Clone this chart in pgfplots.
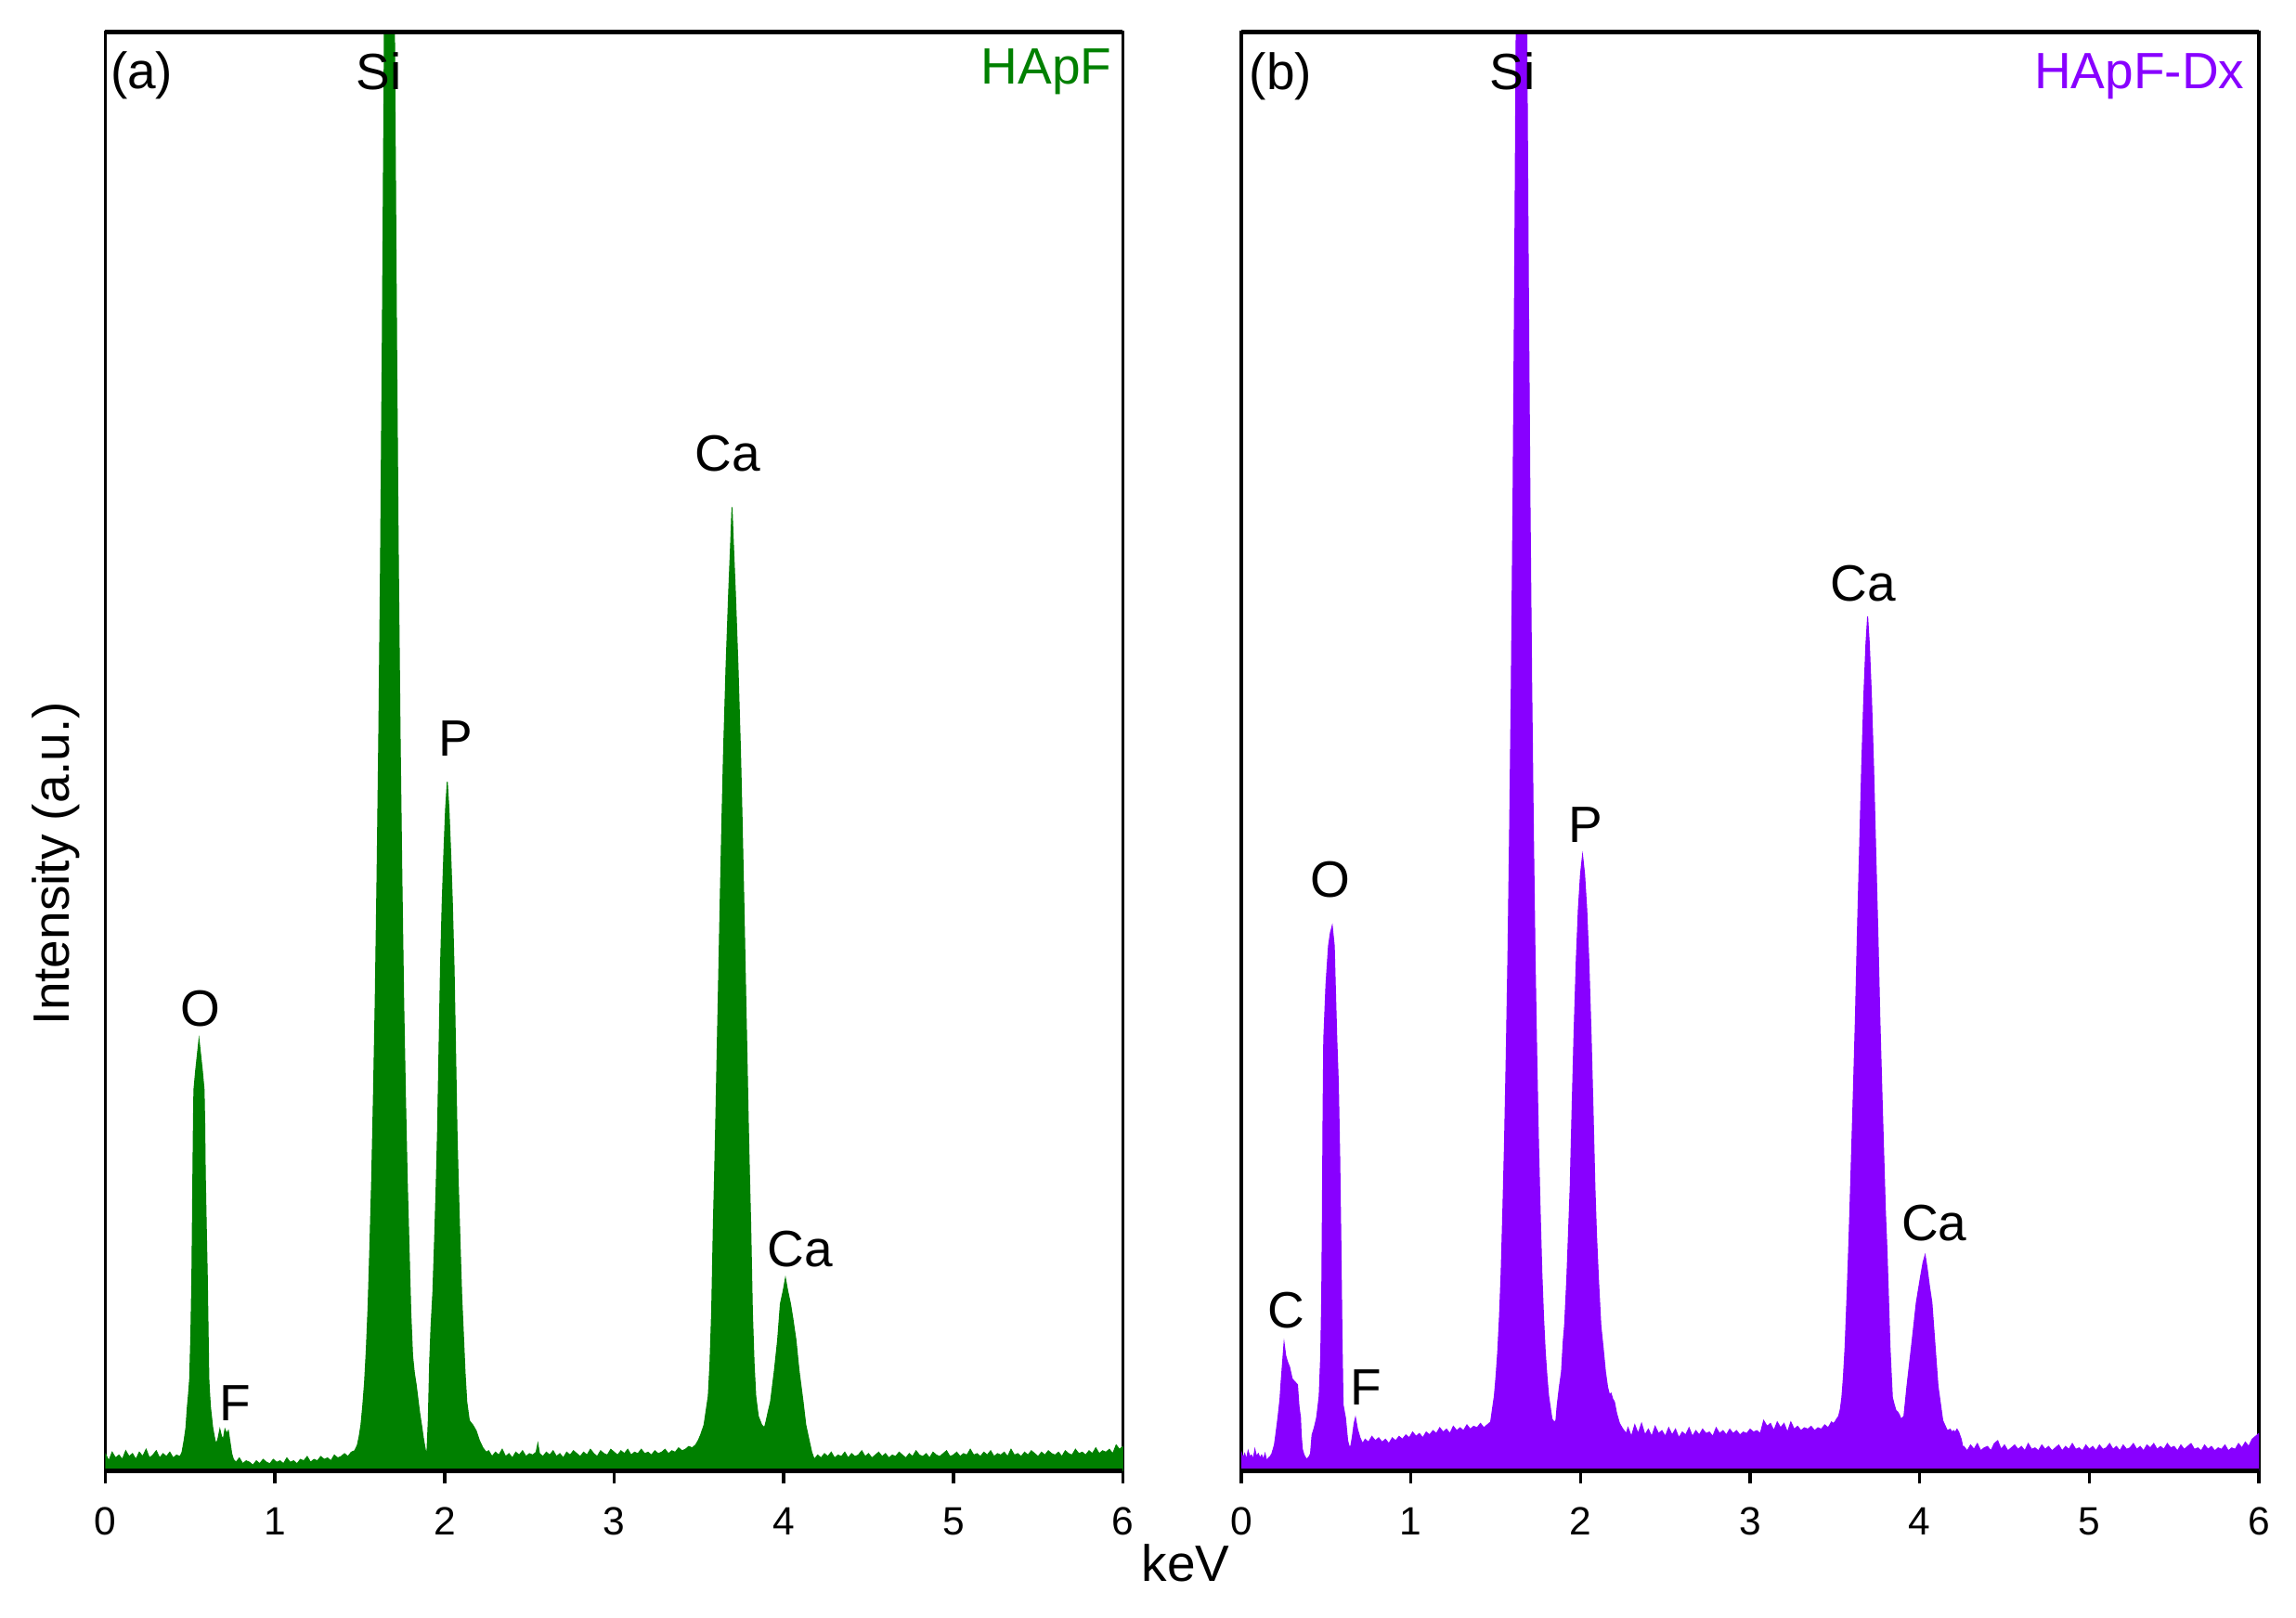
\documentclass[border=0pt]{standalone}
\usepackage{fontspec}
\setmainfont{Liberation Sans}
\usepackage{pgfplots}
\pgfplotsset{compat=1.18}
\definecolor{hapf}{RGB}{0,128,0}
\definecolor{hapfdx}{RGB}{136,0,255}
\tikzset{lbl/.style={font=\fontsize{11}{13}\selectfont, anchor=base, inner sep=0pt}}
\pgfplotsset{eds/.style={
  width=219.2pt, height=309.9pt, scale only axis,
  xmin=0, xmax=6, ymin=0, ymax=100,
  xtick={0,1,2,3,4,5,6}, ytick=\empty,
  xtick pos=lower, tick align=outside, major tick length=2.6pt,
  axis line style={line width=0.7pt},
  every tick/.style={black, line width=0.7pt},
  /pgf/number format/assume math mode=true,
  xticklabel style={font=\fontsize{8.5}{10}\selectfont, anchor=base, yshift=-11.2pt},
}}
\begin{document}
\begin{tikzpicture}
\useasboundingbox (-22.7pt,-31.5pt) rectangle (471.9pt,316.9pt);
% ---------------- (a) HApF ----------------
\begin{axis}[eds, name=A, at={(0pt,0pt)}, anchor=south west]
\addplot[draw=hapf, fill=hapf, line width=0.2pt] coordinates {
(0.00,1.2)(0.02,0.7)(0.04,1.3)(0.06,0.9)(0.08,1.1)(0.10,0.8)(0.12,1.4)(0.14,1.0)(0.16,1.2)(0.18,0.8)(0.20,1.3)(0.22,1.0)(0.24,1.5)(0.26,0.9)(0.28,1.1)(0.30,1.4)(0.32,0.9)(0.34,1.2)(0.36,1.0)(0.38,1.3)(0.40,0.9)(0.42,1.1)(0.44,1.0)
(0.452,1.3)(0.464,2.1)(0.475,3.0)(0.483,4.4)(0.490,5.3)(0.497,6.4)(0.504,9.5)(0.510,13.5)(0.513,17.0)(0.516,20.7)(0.519,24.0)(0.522,26.5)(0.532,27.8)(0.542,28.9)(0.552,30.0)(0.562,28.9)(0.572,27.8)(0.582,26.5)(0.586,24.0)(0.589,20.7)(0.595,17.0)(0.601,13.5)(0.606,9.5)(0.610,6.4)(0.615,5.3)(0.620,4.4)(0.633,3.0)(0.647,2.1)(0.655,1.9)
(0.665,2.3)(0.675,2.9)(0.685,2.4)(0.695,2.2)(0.705,2.9)(0.715,2.6)(0.725,2.8)(0.735,2.0)(0.745,1.2)(0.755,0.8)
(0.77,0.6)(0.79,0.9)(0.81,0.5)(0.83,0.7)(0.85,0.6)(0.87,0.4)(0.89,0.7)(0.91,0.5)(0.93,0.8)(0.95,0.6)(0.97,0.5)(0.99,0.8)(1.01,0.6)(1.03,0.7)(1.05,0.5)(1.07,0.9)(1.09,0.6)(1.11,0.7)(1.13,0.5)(1.15,0.8)(1.17,0.7)(1.19,1.0)(1.21,0.6)(1.23,0.8)(1.25,0.7)(1.27,1.0)(1.29,0.8)(1.31,0.9)(1.33,0.7)(1.35,1.1)(1.37,0.9)(1.39,1.0)(1.41,1.2)(1.43,1.0)(1.45,1.3)(1.47,1.4)
(1.486,1.8)(1.4965,2.4)(1.507,3.2)(1.5175,4.5)(1.528,6.1)(1.5385,8.4)(1.549,11.4)(1.5595,15.6)(1.570,20.2)(1.5805,26.0)(1.591,32.6)(1.6015,41.1)(1.612,51.0)(1.6225,63.2)(1.633,78.8)(1.6435,97.1)(1.654,115.9)(1.6645,130.5)(1.675,136)(1.6855,130.5)(1.696,115.9)(1.7065,97.1)(1.717,78.8)(1.7275,63.2)(1.738,51.0)(1.7485,41.1)(1.759,32.6)(1.7695,26.0)(1.780,20.2)(1.7905,15.6)(1.801,11.0)(1.8115,8.0)(1.822,6.8)(1.8325,6.0)(1.843,5.0)(1.8535,4.0)(1.864,3.2)(1.876,2.2)(1.888,1.4)
(1.896,1.3)(1.904,3.5)(1.912,7.5)(1.920,10.0)(1.931,12.4)(1.941,16.0)(1.951,20.0)(1.959,23.8)(1.966,28.5)(1.976,35.0)(1.986,39.5)(1.996,43.0)(2.006,46.0)(2.016,47.9)(2.026,46.0)(2.036,43.0)(2.046,39.5)(2.056,35.0)(2.066,28.5)(2.073,23.8)(2.081,20.0)(2.091,16.0)(2.101,12.2)(2.111,9.5)(2.121,6.8)(2.131,4.8)(2.146,3.5)(2.166,3.2)(2.186,2.8)(2.206,2.1)(2.226,1.6)(2.246,1.3)
(2.26,1.4)(2.28,1.0)(2.30,1.3)(2.32,1.1)(2.34,1.5)(2.36,1.0)(2.38,1.2)(2.40,0.9)(2.42,1.3)(2.44,1.1)(2.46,1.4)(2.48,1.0)(2.50,1.2)(2.52,1.1)(2.54,1.3)(2.55,1.9)(2.56,1.2)(2.58,1.0)(2.60,1.3)(2.62,1.1)(2.64,1.4)(2.66,1.0)(2.68,1.2)(2.70,0.9)(2.72,1.3)(2.74,1.1)(2.76,1.4)(2.78,1.2)(2.80,1.0)(2.82,1.3)(2.84,1.1)(2.86,1.5)(2.88,1.2)(2.90,1.0)(2.92,1.4)(2.94,1.2)(2.96,1.1)(2.98,1.5)(3.00,1.3)(3.02,1.1)(3.04,1.4)(3.06,1.2)(3.08,1.5)(3.10,1.1)(3.12,1.3)(3.14,1.2)(3.16,1.5)(3.18,1.2)(3.20,1.3)(3.22,1.1)(3.24,1.4)(3.26,1.2)(3.28,1.3)(3.30,1.5)(3.32,1.2)(3.34,1.4)(3.36,1.3)(3.38,1.6)(3.40,1.4)(3.42,1.5)(3.44,1.7)(3.46,1.6)
(3.48,1.8)(3.495,2.1)(3.51,2.5)(3.53,3.2)(3.555,5.2)(3.565,7.5)(3.575,11.1)(3.585,17.2)(3.592,20.5)(3.599,24.2)(3.607,29.0)(3.614,33.0)(3.625,39.5)(3.635,45.0)(3.645,50.0)(3.66,56.0)(3.675,61.0)(3.687,64.5)(3.695,67.0)(3.703,64.5)(3.715,61.0)(3.73,56.0)(3.745,50.0)(3.755,45.0)(3.765,39.5)(3.776,33.0)(3.783,29.0)(3.791,24.2)(3.798,20.5)(3.805,17.2)(3.815,11.1)(3.825,7.5)(3.835,5.2)(3.85,3.8)(3.87,3.2)(3.886,3.0)
(3.895,3.4)(3.908,4.1)(3.922,4.8)(3.945,7.0)(3.964,9.1)(3.98,11.6)(3.998,12.6)(4.01,13.4)(4.022,12.6)(4.04,11.6)(4.055,10.5)(4.072,9.1)(4.09,7.0)(4.114,4.8)(4.13,3.2)(4.15,2.1)(4.165,1.3)
(4.18,0.8)(4.20,1.1)(4.22,0.9)(4.24,1.2)(4.26,1.0)(4.28,1.3)(4.30,0.9)(4.32,1.1)(4.34,1.0)(4.36,1.3)(4.38,0.9)(4.40,1.2)(4.42,1.0)(4.44,1.1)(4.46,1.4)(4.48,1.0)(4.50,1.2)(4.52,0.9)(4.54,1.1)(4.56,1.3)(4.58,1.0)(4.60,1.2)(4.62,0.9)(4.64,1.1)(4.66,1.0)(4.68,1.3)(4.70,1.1)(4.72,0.9)(4.74,1.2)(4.76,1.0)(4.78,1.4)(4.80,1.1)(4.82,1.0)(4.84,1.2)(4.86,0.9)(4.88,1.3)(4.90,1.1)(4.92,1.0)(4.94,1.2)(4.96,1.4)(4.98,1.0)(5.00,1.1)(5.02,1.3)(5.04,1.0)(5.06,1.2)(5.08,1.1)(5.10,1.5)(5.12,1.1)(5.14,1.2)(5.16,1.0)(5.18,1.3)(5.20,1.1)(5.22,1.4)(5.24,1.0)(5.26,1.2)(5.28,1.1)(5.30,1.3)(5.32,1.0)(5.34,1.5)(5.36,1.1)(5.38,1.2)(5.40,1.0)(5.42,1.3)(5.44,1.1)(5.46,1.4)(5.48,1.2)(5.50,1.0)(5.52,1.3)(5.54,1.1)(5.56,1.4)(5.58,1.2)(5.60,1.1)(5.62,1.3)(5.64,1.0)(5.66,1.4)(5.68,1.2)(5.70,1.1)(5.72,1.5)(5.74,1.2)(5.76,1.3)(5.78,1.1)(5.80,1.4)(5.82,1.2)(5.84,1.6)(5.86,1.2)(5.88,1.4)(5.90,1.3)(5.92,1.5)(5.94,1.2)(5.96,1.8)(5.98,1.5)(6.00,1.7)
} \closedcycle;
\node[lbl, anchor=base west] at (axis cs:0.025,96.1) {(a)};
\node[lbl] at (axis cs:1.612,96.0) {Si};
\node[lbl, anchor=base east, text=hapf] at (axis cs:5.94,96.45) {HApF};
\node[lbl] at (axis cs:0.561,30.9) {O};
\node[lbl] at (axis cs:0.763,3.5) {F};
\node[lbl] at (axis cs:2.064,49.7) {P};
\node[lbl] at (axis cs:3.669,69.5) {Ca};
\node[lbl] at (axis cs:4.096,14.2) {Ca};
\end{axis}
% ---------------- (b) HApF-Dx ----------------
\begin{axis}[eds, name=B, at={(244.7pt,0pt)}, anchor=south west]
\addplot[draw=hapfdx, fill=hapfdx, line width=0.2pt] coordinates {
(0.00,1.3)(0.01,0.9)(0.02,1.2)(0.03,0.8)(0.04,1.4)(0.05,1.0)(0.06,1.1)(0.07,0.8)(0.08,1.5)(0.09,1.0)(0.10,1.2)(0.11,0.9)(0.12,1.1)(0.13,0.8)(0.14,1.2)(0.15,0.7)(0.16,0.9)(0.17,1.0)
(0.18,1.2)(0.195,1.8)(0.203,2.5)(0.216,3.7)(0.228,5.0)(0.234,6.1)(0.243,7.5)(0.252,8.9)(0.262,8.0)(0.272,7.6)(0.285,7.2)(0.30,6.4)(0.315,6.2)(0.331,6.0)(0.34,4.5)(0.349,3.7)(0.353,2.5)(0.36,1.5)(0.37,1.1)(0.385,0.8)(0.40,1.0)
(0.408,1.2)(0.417,2.5)(0.430,3.0)(0.444,3.7)(0.459,5.2)(0.468,8.0)(0.474,12.0)(0.478,18.0)(0.482,25.0)(0.486,30.0)(0.499,33.8)(0.514,36.5)(0.525,37.4)(0.536,37.9)(0.548,36.5)(0.554,33.8)(0.563,30.0)(0.572,27.0)(0.580,22.0)(0.587,16.0)(0.594,9.0)(0.600,4.6)(0.614,3.7)(0.627,2.1)(0.636,1.7)
(0.645,1.7)(0.655,2.4)(0.665,3.3)(0.673,3.7)(0.685,2.9)(0.70,2.3)(0.715,1.9)(0.73,2.2)
(0.75,2.0)(0.77,2.4)(0.79,2.1)(0.81,2.3)(0.83,2.0)(0.85,2.2)(0.87,1.9)(0.89,2.3)(0.91,2.1)(0.93,2.4)(0.95,2.2)(0.97,2.5)(0.99,2.3)(1.01,2.7)(1.03,2.4)(1.05,2.6)(1.07,2.3)(1.09,2.7)(1.11,2.5)(1.13,2.8)(1.15,2.6)(1.17,3.0)(1.19,2.7)(1.21,2.9)(1.23,2.6)(1.25,3.1)(1.27,2.8)(1.29,3.0)(1.31,2.8)(1.33,3.2)(1.35,2.9)(1.37,3.1)(1.39,3.0)(1.41,3.3)(1.43,3.0)(1.45,3.2)(1.47,3.4)
(1.482,4.4)(1.492,5.2)(1.502,6.6)(1.512,8.3)(1.522,10.7)(1.532,13.8)(1.542,18.1)(1.552,22.9)(1.562,28.9)(1.572,35.8)(1.582,44.6)(1.592,54.8)(1.602,67.5)(1.612,83.6)(1.622,102.7)(1.632,122.1)(1.642,137.3)(1.652,143)(1.662,137.3)(1.672,122.1)(1.682,102.7)(1.692,83.6)(1.702,67.5)(1.712,54.8)(1.722,44.6)(1.732,35.8)(1.742,28.9)(1.752,22.9)(1.762,18.1)(1.772,13.8)(1.782,10.7)(1.792,8.3)(1.802,6.6)(1.812,5.2)(1.822,4.4)(1.832,3.6)(1.845,3.4)(1.855,3.5)
(1.862,4.5)(1.875,5.8)(1.888,6.9)(1.898,9.0)(1.906,10.1)(1.919,13.3)(1.929,16.5)(1.939,19.7)(1.951,25.5)(1.962,30.5)(1.975,35.5)(1.987,39.0)(2.000,41.5)(2.012,42.8)(2.024,41.5)(2.037,39.0)(2.049,35.5)(2.062,30.5)(2.073,25.5)(2.085,19.7)(2.094,16.5)(2.106,13.3)(2.120,10.1)(2.134,8.5)(2.147,6.9)(2.160,5.8)(2.171,5.3)(2.18,5.4)(2.19,5.0)(2.20,4.8)(2.213,4.0)(2.23,3.3)(2.25,2.9)(2.27,2.6)
(2.28,3.0)(2.30,2.4)(2.32,3.2)(2.34,2.6)(2.36,3.3)(2.38,2.5)(2.40,2.9)(2.42,2.4)(2.44,3.1)(2.46,2.6)(2.48,2.8)(2.50,2.4)(2.52,3.0)(2.54,2.5)(2.56,2.9)(2.58,2.3)(2.60,2.7)(2.62,2.5)(2.64,3.0)(2.66,2.4)(2.68,2.8)(2.70,2.5)(2.72,2.9)(2.74,2.6)(2.76,2.7)(2.78,2.4)(2.80,3.0)(2.82,2.6)(2.84,2.8)(2.86,2.5)(2.88,2.9)(2.90,2.6)(2.92,2.8)(2.94,2.5)(2.96,2.7)(2.98,2.6)(3.00,2.9)(3.02,2.7)(3.04,2.8)(3.06,2.6)(3.08,3.5)(3.10,3.1)(3.12,3.3)(3.14,2.8)(3.16,3.4)(3.18,3.0)(3.20,3.3)(3.22,2.7)(3.24,3.4)(3.26,2.9)(3.28,3.1)(3.30,2.8)(3.32,3.0)(3.34,2.9)(3.36,3.1)(3.38,2.8)(3.40,3.0)(3.42,2.9)(3.44,3.2)(3.46,3.0)(3.48,3.4)
(3.49,3.3)(3.50,3.4)(3.51,3.6)(3.522,3.8)(3.532,4.3)(3.541,5.1)(3.55,6.5)(3.56,8.6)(3.571,12.0)(3.581,15.4)(3.588,18.0)(3.598,22.0)(3.608,26.0)(3.621,31.5)(3.633,37.6)(3.645,43.0)(3.658,49.0)(3.671,54.0)(3.683,57.5)(3.693,59.4)(3.703,57.5)(3.715,54.0)(3.728,49.0)(3.741,43.0)(3.753,37.6)(3.765,31.5)(3.778,26.0)(3.788,22.0)(3.798,18.0)(3.807,15.4)(3.816,12.0)(3.825,8.6)(3.832,6.8)(3.839,5.1)(3.85,4.6)(3.86,4.2)(3.87,4.1)
(3.88,3.9)(3.89,3.6)(3.907,3.8)(3.925,5.9)(3.953,8.8)(3.98,11.7)(4.005,13.5)(4.02,14.5)(4.032,15.0)(4.045,14.0)(4.058,12.8)(4.072,11.7)(4.09,8.8)(4.108,5.9)(4.136,3.5)(4.163,2.8)(4.18,2.9)(4.19,2.7)(4.20,2.8)(4.21,2.7)(4.22,2.9)(4.23,2.7)(4.245,2.2)(4.255,1.6)
(4.26,1.7)(4.28,1.4)(4.30,1.8)(4.32,1.5)(4.34,1.9)(4.36,1.4)(4.38,1.6)(4.40,1.7)(4.42,1.4)(4.44,1.9)(4.46,2.1)(4.48,1.5)(4.50,1.8)(4.52,1.4)(4.54,1.6)(4.56,1.8)(4.58,1.5)(4.60,1.7)(4.62,1.4)(4.64,1.9)(4.66,1.5)(4.68,1.6)(4.70,1.4)(4.72,1.8)(4.74,1.5)(4.76,1.7)(4.78,1.4)(4.80,1.6)(4.82,1.8)(4.84,1.4)(4.86,1.7)(4.88,1.5)(4.90,1.9)(4.92,1.5)(4.94,1.6)(4.96,1.4)(4.98,1.8)(5.00,1.5)(5.02,1.7)(5.04,1.4)(5.06,1.8)(5.08,1.5)(5.10,1.6)(5.12,1.9)(5.14,1.5)(5.16,1.7)(5.18,1.4)(5.20,1.8)(5.22,1.5)(5.24,1.6)(5.26,1.9)(5.28,1.5)(5.30,1.7)(5.32,1.4)(5.34,1.8)(5.36,1.6)(5.38,1.9)(5.40,1.5)(5.42,1.7)(5.44,1.5)(5.46,1.9)(5.48,1.6)(5.50,1.7)(5.52,1.4)(5.54,1.8)(5.56,1.5)(5.58,1.7)(5.60,1.9)(5.62,1.5)(5.64,1.6)(5.66,1.4)(5.68,1.8)(5.70,1.5)(5.72,1.7)(5.74,1.4)(5.76,1.6)(5.78,1.5)(5.80,1.8)(5.82,1.4)(5.84,1.6)(5.86,1.5)(5.88,1.9)(5.90,1.6)(5.92,2.0)(5.94,1.7)(5.96,2.2)(5.98,2.4)(6.00,2.6)
} \closedcycle;
\node[lbl, anchor=base west] at (axis cs:0.042,96.0) {(b)};
\node[lbl] at (axis cs:1.60,96.0) {Si};
\node[lbl, anchor=base east, text=hapfdx] at (axis cs:5.92,96.1) {HApF-Dx};
\node[lbl] at (axis cs:0.267,9.97) {C};
\node[lbl] at (axis cs:0.527,39.9) {O};
\node[lbl] at (axis cs:0.733,4.6) {F};
\node[lbl] at (axis cs:2.032,43.7) {P};
\node[lbl] at (axis cs:3.665,60.5) {Ca};
\node[lbl] at (axis cs:4.085,16.0) {Ca};
\end{axis}
% heavier top and bottom frame lines
\foreach \ax in {A,B}{
  \draw[line width=1.0pt] (\ax.south west) -- (\ax.south east);
  \draw[line width=1.0pt] (\ax.north west) -- (\ax.north east);
}
\node[font=\fontsize{11}{13}\selectfont, rotate=90] at (-10.7pt,130.9pt) {Intensity (a.u.)};
\node[font=\fontsize{11}{13}\selectfont] at (232.7pt,-19.8pt) {keV};
\end{tikzpicture}
\end{document}
